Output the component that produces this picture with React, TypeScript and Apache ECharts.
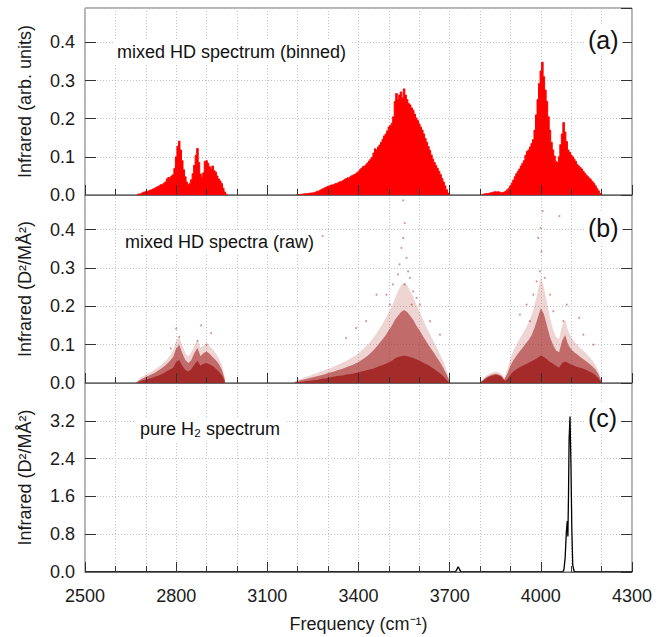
import React, { useEffect, useRef } from 'react';
import * as echarts from 'echarts';

// ---------- data ----------
const FREQ_MIN = 2500;
const FREQ_MAX = 4300;

// (a) binned mixed HD spectrum, 5 cm^-1 bins
const BIN_STEP = 5;
const binnedStart1 = 2670;
const binnedBand1 = [
  0, 0.002, 0.003, 0.004, 0.006, 0.008, 0.009, 0.010, 0.011, 0.013,
  0.014, 0.016, 0.018, 0.020, 0.022, 0.024, 0.027, 0.028, 0.031, 0.034,
  0.042, 0.046, 0.045, 0.050, 0.053, 0.070, 0.100, 0.128, 0.141, 0.118,
  0.090, 0.066, 0.048, 0.034, 0.027, 0.030, 0.040, 0.056, 0.078, 0.104,
  0.122, 0.085, 0.055, 0.045, 0.058, 0.088, 0.090, 0.083, 0.074, 0.068,
  0.076, 0.064, 0.060, 0.050, 0.042, 0.037, 0.030, 0.018, 0.008, 0.002, 0,
];
const binnedStart2 = 3195;
const binnedBand2 = [
  0, 0.001, 0.001, 0.002, 0.002, 0.003, 0.003, 0.004, 0.004, 0.005,
  0.005, 0.006, 0.007, 0.008, 0.010, 0.011, 0.013, 0.015, 0.017, 0.019,
  0.021, 0.023, 0.024, 0.026, 0.027, 0.028, 0.030, 0.031, 0.033, 0.035,
  0.036, 0.038, 0.041, 0.043, 0.045, 0.046, 0.049, 0.051, 0.053, 0.055,
  0.058, 0.061, 0.066, 0.070, 0.074, 0.076, 0.079, 0.084, 0.089, 0.094,
  0.099, 0.110, 0.121, 0.118, 0.126, 0.131, 0.138, 0.146, 0.155, 0.160,
  0.168, 0.178, 0.182, 0.188, 0.205, 0.245, 0.266, 0.250, 0.262, 0.270,
  0.255, 0.278, 0.262, 0.250, 0.240, 0.236, 0.228, 0.222, 0.212, 0.202,
  0.195, 0.186, 0.178, 0.170, 0.160, 0.148, 0.138, 0.127, 0.117, 0.105,
  0.094, 0.085, 0.077, 0.070, 0.062, 0.054, 0.044, 0.034, 0.024, 0.014,
  0.005, 0,
];
const binnedStart3 = 3805;
const binnedBand3 = [
  0, 0.002, 0.003, 0.004, 0.004, 0.005, 0.006, 0.007, 0.008, 0.009,
  0.008, 0.009, 0.007, 0.006, 0.007, 0.008, 0.010, 0.014, 0.018, 0.024,
  0.031, 0.039, 0.048, 0.056, 0.062, 0.068, 0.076, 0.083, 0.090, 0.104,
  0.114, 0.118, 0.126, 0.135, 0.145, 0.170, 0.210, 0.250, 0.292, 0.325,
  0.348, 0.310, 0.275, 0.245, 0.205, 0.170, 0.138, 0.118, 0.102, 0.088,
  0.085, 0.100, 0.132, 0.160, 0.190, 0.165, 0.140, 0.118, 0.112, 0.105,
  0.100, 0.094, 0.088, 0.080, 0.076, 0.072, 0.068, 0.062, 0.057, 0.052,
  0.048, 0.044, 0.040, 0.035, 0.030, 0.024, 0.017, 0.011, 0.004, 0,
];

// (b) raw mixed HD spectra: solid core, dense halo and sparse outer envelopes, 10 cm^-1
const RAW_STEP = 10;
const rawStart1 = 2670;
const rawCore1 = [
  0, 0.004, 0.007, 0.009, 0.011, 0.013, 0.016, 0.019, 0.022, 0.026,
  0.031, 0.035, 0.040, 0.055, 0.060, 0.045, 0.034, 0.030, 0.036, 0.048,
  0.058, 0.045, 0.050, 0.052, 0.048, 0.044, 0.038, 0.030, 0.020, 0.005,
];
const rawHalo1 = [
  0.002, 0.008, 0.012, 0.016, 0.019, 0.023, 0.027, 0.032, 0.037, 0.043,
  0.050, 0.058, 0.068, 0.090, 0.100, 0.078, 0.060, 0.052, 0.060, 0.078,
  0.092, 0.070, 0.078, 0.082, 0.076, 0.068, 0.060, 0.050, 0.035, 0.010,
];
const rawOuter1 = [
  0.004, 0.012, 0.017, 0.022, 0.026, 0.030, 0.035, 0.041, 0.047, 0.054,
  0.062, 0.072, 0.085, 0.110, 0.120, 0.098, 0.078, 0.070, 0.080, 0.098,
  0.112, 0.092, 0.098, 0.102, 0.096, 0.088, 0.078, 0.066, 0.048, 0.016,
];
const rawStart2 = 3190;
const rawCore2 = [
  0, 0.002, 0.003, 0.004, 0.005, 0.006, 0.007, 0.008, 0.009, 0.011,
  0.012, 0.014, 0.015, 0.017, 0.018, 0.019, 0.020, 0.022, 0.023, 0.024,
  0.026, 0.028, 0.030, 0.032, 0.034, 0.036, 0.038, 0.041, 0.044, 0.047,
  0.050, 0.054, 0.058, 0.064, 0.068, 0.070, 0.072, 0.070, 0.068, 0.065,
  0.062, 0.058, 0.054, 0.050, 0.046, 0.041, 0.036, 0.030, 0.024, 0.017,
  0.008, 0,
];
const rawHalo2 = [
  0.002, 0.005, 0.007, 0.009, 0.011, 0.013, 0.015, 0.017, 0.019, 0.021,
  0.023, 0.026, 0.028, 0.030, 0.033, 0.035, 0.038, 0.041, 0.044, 0.047,
  0.051, 0.055, 0.060, 0.065, 0.071, 0.078, 0.086, 0.095, 0.105, 0.115,
  0.125, 0.138, 0.150, 0.165, 0.175, 0.185, 0.190, 0.185, 0.175, 0.165,
  0.150, 0.138, 0.125, 0.112, 0.100, 0.088, 0.076, 0.064, 0.052, 0.038,
  0.022, 0.004,
];
const rawOuter2 = [
  0.004, 0.008, 0.011, 0.014, 0.017, 0.019, 0.022, 0.025, 0.028, 0.031,
  0.034, 0.037, 0.040, 0.043, 0.047, 0.050, 0.054, 0.058, 0.062, 0.067,
  0.072, 0.078, 0.085, 0.092, 0.100, 0.109, 0.119, 0.130, 0.142, 0.155,
  0.170, 0.185, 0.200, 0.220, 0.240, 0.255, 0.262, 0.255, 0.240, 0.225,
  0.205, 0.188, 0.170, 0.152, 0.136, 0.120, 0.104, 0.088, 0.072, 0.054,
  0.032, 0.008,
];
const rawStart3 = 3800;
const rawCore3 = [
  0, 0.006, 0.012, 0.016, 0.019, 0.021, 0.020, 0.016, 0.006, 0.010,
  0.022, 0.030, 0.036, 0.041, 0.045, 0.049, 0.053, 0.057, 0.061, 0.066,
  0.072, 0.068, 0.062, 0.055, 0.050, 0.045, 0.040, 0.052, 0.056, 0.052,
  0.048, 0.045, 0.042, 0.040, 0.037, 0.034, 0.030, 0.026, 0.020, 0.012,
  0,
];
const rawHalo3 = [
  0.001, 0.008, 0.015, 0.019, 0.022, 0.024, 0.023, 0.019, 0.010, 0.025,
  0.045, 0.060, 0.072, 0.082, 0.092, 0.102, 0.112, 0.125, 0.145, 0.170,
  0.195, 0.180, 0.150, 0.120, 0.100, 0.085, 0.080, 0.110, 0.125, 0.100,
  0.088, 0.080, 0.074, 0.068, 0.062, 0.056, 0.050, 0.043, 0.035, 0.022,
  0.004,
];
const rawOuter3 = [
  0.002, 0.011, 0.019, 0.024, 0.027, 0.029, 0.028, 0.024, 0.014, 0.035,
  0.065, 0.085, 0.100, 0.115, 0.128, 0.142, 0.158, 0.178, 0.205, 0.240,
  0.275, 0.250, 0.210, 0.170, 0.140, 0.120, 0.115, 0.150, 0.165, 0.135,
  0.120, 0.108, 0.100, 0.092, 0.084, 0.076, 0.068, 0.058, 0.047, 0.030,
  0.006,
];
const rawOutlierFreq = [
  2782, 2800, 2810, 2870, 2882, 2900, 2915,
  3282, 3359, 3392, 3425, 3459, 3492, 3503, 3513, 3530, 3535, 3541, 3547, 3547,
  3552, 3552, 3558, 3563, 3569, 3575, 3580, 3591, 3602, 3635, 3668,
  3931, 3953, 3964, 3975, 3986, 3991, 3997, 3999, 4002, 4006, 4013, 4030, 4041,
  4061, 4074, 4085, 4126, 4140, 4173,
];
const rawOutlierValue = [
  0.090, 0.142, 0.120, 0.110, 0.150, 0.100, 0.130,
  0.383, 0.117, 0.143, 0.161, 0.230, 0.230, 0.204, 0.257, 0.283, 0.309, 0.352, 0.378, 0.476,
  0.417, 0.257, 0.326, 0.291, 0.274, 0.204, 0.239, 0.222, 0.204, 0.161, 0.126,
  0.178, 0.204, 0.161, 0.230, 0.265, 0.378, 0.291, 0.404, 0.343, 0.448, 0.274, 0.230, 0.187,
  0.435, 0.161, 0.204, 0.170, 0.126, 0.100,
];

// (c) pure H2 spectrum
const h2Freq = [2500, 3719, 3724, 3728, 3732, 3737, 4072, 4076, 4080, 4084, 4087, 4089, 4091, 4093, 4096, 4099, 4102, 4105, 4110, 4300];
const h2Intensity = [0, 0, 0.06, 0.11, 0.06, 0, 0, 0.05, 0.3, 0.85, 1.08, 0.75, 1.6, 2.8, 3.29, 2.3, 0.9, 0.15, 0, 0];

// ---------- helpers ----------
const FONT = 'Liberation Sans, Arial, Helvetica, sans-serif';
const AXIS_COLOR = '#6a6a6a';
const TICK_COLOR = '#333';
const GRID_COLOR = '#c4c4c4';
const FS = 18;

const toPairs = (start: number, step: number, vals: number[]) =>
  vals.map((v, i) => [start + i * step, v]);

const GRIDS = [
  { top: 8, height: 187 },
  { top: 195, height: 188 },
  { top: 383, height: 189 },
];

const Y_MAX = [0.49, 0.49, 4.0];
const Y_INT = [0.1, 0.1, 0.8];
const Y_NAMES = ['Infrared (arb. units)', 'Infrared (D²/MÅ²)', 'Infrared (D²/MÅ²)'];

function buildOption() {
  const grid = GRIDS.map((g) => ({
    left: 85,
    width: 547,
    top: g.top,
    height: g.height,
    show: true,
    borderColor: AXIS_COLOR,
    borderWidth: 1,
    backgroundColor: 'transparent',
  }));

  const dotted = { color: GRID_COLOR, width: 1, type: [1, 2] as any };

  const xAxis: any[] = [];
  for (let i = 0; i < 3; i++) {
    xAxis.push({
      type: 'value', gridIndex: i, min: FREQ_MIN, max: FREQ_MAX, interval: 300,
      position: 'bottom', z: 0,
      axisLine: { show: false }, axisTick: { show: false }, axisLabel: { show: false },
      splitLine: { show: true, lineStyle: dotted },
      minorTick: { show: false, splitNumber: 3 },
      minorSplitLine: { show: true, lineStyle: dotted },
    });
  }
  for (let i = 0; i < 3; i++) {
    const bottom = i === 2;
    xAxis.push({
      type: 'value', gridIndex: i, min: FREQ_MIN, max: FREQ_MAX, interval: 300,
      position: 'bottom', z: 10,
      axisLine: { show: true, lineStyle: { color: AXIS_COLOR, width: 1 } },
      axisTick: { show: true, inside: true, length: 10, lineStyle: { color: TICK_COLOR } },
      minorTick: { show: true, splitNumber: 3, length: 6, lineStyle: { color: TICK_COLOR } },
      splitLine: { show: false },
      minorSplitLine: { show: false },
      axisLabel: bottom
        ? {
            show: true, fontSize: FS, fontFamily: FONT, color: '#1a1a1a', margin: 15,
            formatter: (v: number) => String(v),
          }
        : { show: false },
      name: bottom ? 'Frequency (cm⁻¹)' : '',
      nameLocation: 'middle',
      nameGap: 43,
      nameTextStyle: { fontSize: FS, fontFamily: FONT, color: '#1a1a1a' },
    });
  }

  const yAxis: any[] = [];
  for (let i = 0; i < 3; i++) {
    yAxis.push({
      type: 'value', gridIndex: i, min: 0, max: Y_MAX[i], interval: Y_INT[i],
      position: 'left', z: 0,
      axisLine: { show: false },
      axisTick: { show: true, inside: true, length: 11, lineStyle: { color: TICK_COLOR } },
      axisLabel: {
        show: true, fontSize: FS, fontFamily: FONT, color: '#1a1a1a', margin: 10,
        showMaxLabel: false,
        formatter: (v: number) => v.toFixed(1),
      },
      splitLine: { show: true, lineStyle: dotted },
      name: Y_NAMES[i],
      nameLocation: 'middle',
      nameRotate: 90,
      nameGap: 51,
      nameTextStyle: { fontSize: FS, fontFamily: FONT, color: '#1a1a1a' },
    });
  }
  for (let i = 0; i < 3; i++) {
    yAxis.push({
      type: 'value', gridIndex: i, min: 0, max: Y_MAX[i], interval: Y_INT[i],
      position: 'right', z: 10,
      axisLine: { show: false },
      axisTick: { show: true, inside: true, length: 11, lineStyle: { color: TICK_COLOR } },
      axisLabel: { show: false },
      splitLine: { show: false },
    });
  }

  const binnedSeries = [
    [binnedStart1, binnedBand1],
    [binnedStart2, binnedBand2],
    [binnedStart3, binnedBand3],
  ].map(([s, vals]) => ({
    type: 'line', xAxisIndex: 0, yAxisIndex: 0,
    data: toPairs(s as number, BIN_STEP, vals as number[]),
    step: 'middle', symbol: 'none', silent: true,
    lineStyle: { color: '#ff0000', width: 1 },
    areaStyle: { color: '#ff0000', opacity: 1 },
    z: 2,
  }));

  const rawLayer = (bands: [number, number[]][], color: string, z: number) =>
    bands.map(([s, vals]) => ({
      type: 'line', xAxisIndex: 1, yAxisIndex: 1,
      data: toPairs(s, RAW_STEP, vals),
      symbol: 'none', silent: true,
      lineStyle: { width: 0, color: 'rgba(165,42,42,0)' },
      areaStyle: { color, opacity: 1 },
      z,
    }));

  const outerSeries = rawLayer(
    [[rawStart1, rawOuter1], [rawStart2, rawOuter2], [rawStart3, rawOuter3]],
    'rgba(180,60,60,0.22)', 2,
  );
  const haloSeries = rawLayer(
    [[rawStart1, rawHalo1], [rawStart2, rawHalo2], [rawStart3, rawHalo3]],
    'rgba(165,42,42,0.62)', 3,
  );
  const coreSeries = rawLayer(
    [[rawStart1, rawCore1], [rawStart2, rawCore2], [rawStart3, rawCore3]],
    '#a52a2a', 4,
  );

  const outlierSeries = {
    type: 'scatter', xAxisIndex: 1, yAxisIndex: 1,
    data: rawOutlierFreq.map((f, i) => [f, rawOutlierValue[i]]),
    symbol: 'circle', symbolSize: 2, silent: true,
    itemStyle: { color: 'rgba(190,60,60,0.7)' },
    z: 5,
  };

  const h2Series = {
    type: 'line', xAxisIndex: 2, yAxisIndex: 2,
    data: h2Freq.map((f, i) => [f, h2Intensity[i]]),
    symbol: 'none', silent: true,
    lineStyle: { color: '#000', width: 1.3 },
    z: 3,
  };

  const txt = (x: number, y: number, text: string, size: number) => ({
    type: 'text', x, y, z: 100,
    style: {
      text, x: 0, y: 0,
      font: `${size}px ${FONT}`,
      fill: '#111',
      verticalAlign: 'middle',
      align: 'left',
      backgroundColor: '#fff',
      padding: [3, 4],
    },
  });

  return {
    animation: false,
    backgroundColor: '#fff',
    grid,
    xAxis,
    yAxis,
    series: [...binnedSeries, ...outerSeries, ...haloSeries, ...coreSeries, outlierSeries, h2Series],
    graphic: [
      txt(113, 52, 'mixed HD spectrum (binned)', FS),
      txt(584, 40, '(a)', 25),
      txt(121, 242, 'mixed HD spectra (raw)', FS),
      txt(584, 228, '(b)', 25),
      txt(136, 429, 'pure H₂ spectrum', FS),
      txt(584, 418, '(c)', 25),
    ],
  };
}

export default function App() {
  const ref = useRef<HTMLDivElement>(null);
  useEffect(() => {
    if (!ref.current) return;
    const chart = echarts.init(ref.current, null, { renderer: 'svg' });
    chart.setOption(buildOption() as any);
    return () => chart.dispose();
  }, []);
  return (
    <div
      ref={ref}
      style={{ position: 'fixed', left: 0, top: 0, width: 669, height: 637, background: '#fff' }}
    />
  );
}
